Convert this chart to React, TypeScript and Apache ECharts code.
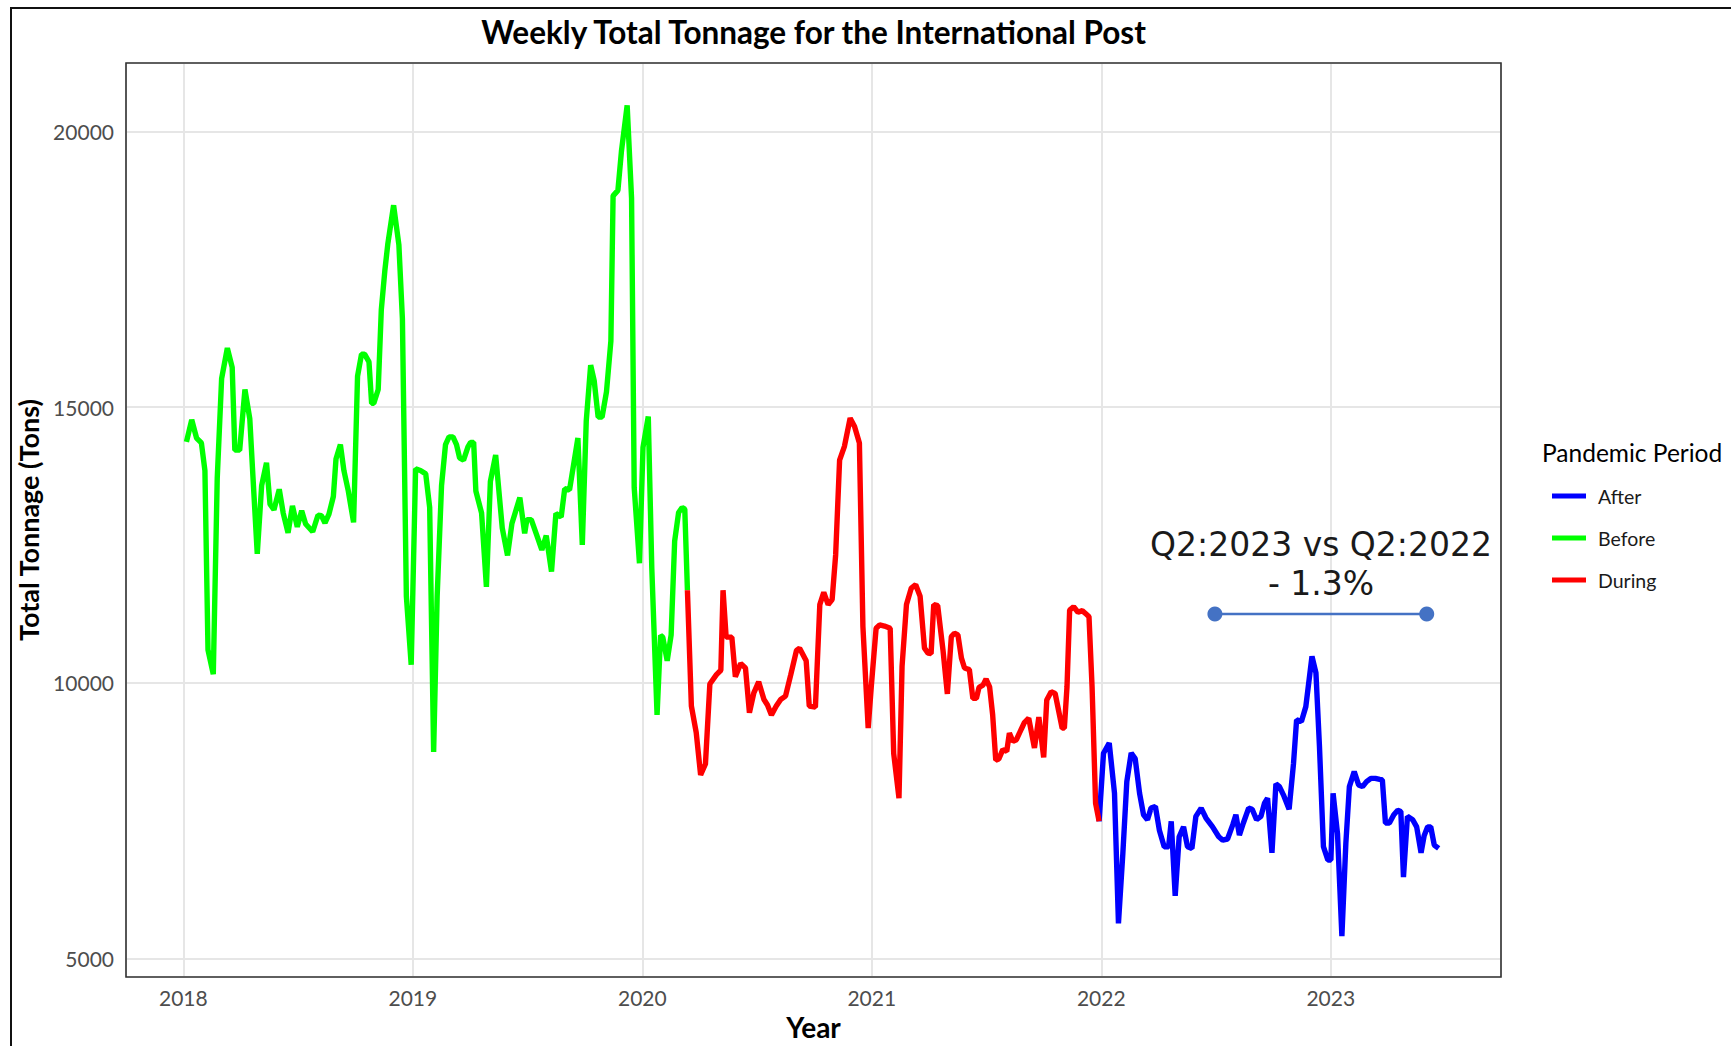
import React, { useEffect, useRef } from "react";
import * as echarts from "echarts";

// Weeks counted from the first observation (Saturday 2018-01-06); values in tons.
const START_YEAR = 2018;
const START_DAY_OF_YEAR = 5;

const beforePeriod: [number, number][] = [
  [0, 14370], [1.2, 14770], [2.3, 14440], [3.4, 14350], [4.2, 13850], [4.9, 10600], [6.1, 10160],
  [7.0, 13710], [8.0, 15520], [9.3, 16070], [10.4, 15720], [11.0, 14220], [12.1, 14220], [13.3, 15320],
  [14.4, 14790], [15.0, 13910], [16.1, 12340], [17.1, 13580], [18.2, 13990], [19.0, 13240], [19.9, 13140],
  [21.1, 13510], [22.0, 13080], [23.1, 12720], [24.1, 13210], [25.2, 12830], [26.2, 13120], [27.1, 12880],
  [28.7, 12740], [29.9, 13040], [30.7, 13030], [31.5, 12900], [32.4, 13060], [33.4, 13380], [34.0, 14060],
  [35.0, 14320], [35.8, 13850], [36.8, 13480], [38.0, 12910], [38.9, 15560], [39.8, 15960], [40.5, 15960],
  [41.5, 15820], [42.1, 15070], [42.6, 15070], [43.6, 15320], [44.3, 16760], [45.1, 17470], [45.8, 17970],
  [47.1, 18660], [48.3, 17940], [49.1, 16600], [50.0, 11570], [51.1, 10330], [52.1, 13880], [53.2, 13850],
  [54.4, 13790], [55.3, 13180], [56.2, 8750], [57.0, 11570], [58.0, 13580], [58.9, 14320], [59.7, 14460],
  [60.6, 14460], [61.4, 14320], [62.1, 14080], [63.0, 14040], [64.0, 14280], [64.6, 14360], [65.3, 14360],
  [65.8, 13480], [67.1, 13080], [68.2, 11740], [69.1, 13650], [70.3, 14130], [71.8, 12810], [73.0, 12310],
  [74.0, 12890], [75.8, 13360], [76.9, 12710], [77.4, 12960], [78.4, 12960], [79.6, 12690], [80.8, 12410],
  [81.8, 12670], [83.0, 12020], [84.0, 13070], [85.2, 13010], [86.0, 13520], [87.1, 13500], [89.0, 14440],
  [90.0, 12500], [90.9, 14750], [91.9, 15760], [92.7, 15480], [93.6, 14820], [94.5, 14820], [95.5, 15280],
  [96.5, 16200], [97.0, 18830], [98.1, 18930], [98.9, 19640], [100.2, 20470], [101.2, 18790], [101.8, 13540],
  [103.0, 12170], [103.8, 14270], [105.0, 14830], [105.8, 12080], [107.0, 9420], [107.8, 10860], [108.3, 10830],
  [109.3, 10400], [110.2, 10870], [111.0, 12570], [111.9, 13090], [112.7, 13180], [113.3, 13150], [113.9, 11680],
];

const duringPeriod: [number, number][] = [
  [113.9, 11680], [114.8, 9580], [115.9, 9100], [116.9, 8330], [118.0, 8530], [119.0, 9980], [120.5, 10150],
  [121.5, 10230], [122.0, 11680], [122.7, 10830], [124.0, 10830], [124.8, 10110], [126.0, 10350], [127.1, 10270],
  [128.0, 9460], [129.0, 9820], [130.1, 10020], [131.3, 9700], [132.1, 9600], [133.0, 9420], [134.1, 9580],
  [135.1, 9700], [136.2, 9760], [137.4, 10150], [138.7, 10590], [139.4, 10630], [140.9, 10400], [141.6, 9580],
  [143.0, 9560], [144.0, 11420], [144.9, 11640], [145.9, 11420], [146.8, 11510], [147.6, 12320], [148.5, 14040],
  [149.6, 14290], [150.9, 14800], [151.9, 14650], [153.0, 14350], [153.8, 11020], [155.0, 9180], [155.7, 9930],
  [156.8, 10990], [157.6, 11050], [158.7, 11030], [160.0, 10990], [160.8, 8720], [162.0, 7910], [162.7, 10300],
  [163.7, 11420], [164.8, 11720], [165.8, 11780], [166.8, 11570], [167.8, 10630], [168.6, 10540], [169.3, 10530],
  [169.9, 11420], [170.8, 11400], [172.0, 10600], [173.0, 9800], [173.9, 10840], [174.6, 10900], [175.4, 10870],
  [176.2, 10450], [176.9, 10270], [178.0, 10240], [178.8, 9720], [179.6, 9720], [180.2, 9920], [181.1, 9960],
  [181.8, 10070], [182.6, 9930], [183.3, 9420], [184.0, 8600], [184.7, 8620], [185.6, 8790], [186.5, 8760],
  [187.1, 9090], [187.9, 8940], [188.7, 8970], [189.8, 9160], [190.5, 9280], [191.5, 9360], [192.8, 8820],
  [193.8, 9380], [194.9, 8650], [195.6, 9690], [196.6, 9840], [197.5, 9810], [199.1, 9180], [199.6, 9180],
  [200.2, 9930], [200.8, 11320], [201.7, 11380], [202.7, 11280], [203.7, 11310], [204.4, 11260], [205.2, 11200],
  [205.9, 9930], [206.7, 7820], [207.5, 7490],
];

const afterPeriod: [number, number][] = [
  [207.5, 7490], [208.5, 8725], [209.8, 8910], [211.0, 8000], [211.9, 5640], [212.9, 6910], [213.8, 8210],
  [214.8, 8730], [215.7, 8630], [216.7, 8000], [217.6, 7610], [218.5, 7520], [219.3, 7730], [220.3, 7760],
  [221.2, 7330], [222.3, 7030], [223.3, 7030], [223.9, 7490], [224.8, 6140], [225.7, 7210], [226.7, 7390],
  [227.6, 7030], [228.6, 7000], [229.5, 7580], [230.7, 7730], [231.8, 7550], [233.3, 7390], [234.7, 7210],
  [235.6, 7150], [236.7, 7170], [237.9, 7430], [238.6, 7610], [239.4, 7240], [240.3, 7460], [241.5, 7730],
  [242.3, 7710], [243.3, 7520], [244.3, 7580], [245.1, 7820], [245.8, 7910], [246.8, 6920], [247.7, 8170],
  [248.5, 8120], [249.4, 7970], [250.7, 7710], [251.7, 8540], [252.4, 9330], [253.5, 9300], [254.5, 9570],
  [255.9, 10480], [256.8, 10180], [257.6, 8850], [258.5, 7030], [259.5, 6790], [260.2, 6790], [260.7, 8000],
  [261.7, 7270], [262.7, 5410], [263.6, 7090], [264.4, 8120], [265.5, 8390], [266.5, 8150], [267.4, 8120],
  [268.3, 8210], [269.3, 8270], [270.3, 8270], [271.3, 8250], [271.9, 8240], [272.6, 7460], [273.5, 7460],
  [274.5, 7610], [275.4, 7690], [276.1, 7670], [276.7, 6480], [277.6, 7580], [278.8, 7520], [279.7, 7390],
  [280.7, 6920], [281.4, 7230], [282.2, 7390], [282.9, 7390], [283.7, 7060], [284.7, 7000],
];

// Q2:2023 vs Q2:2022 comparison bar (decimal year, tons)
const comparisonBar: [number, number][] = [
  [2022.495, 11250],
  [2023.418, 11250],
];

const periodNames = ["After", "Before", "During"];
const periodColors = ["#0000FF", "#00FF00", "#FF0000"];
const yTicks = [5000, 10000, 15000, 20000];
const xTicks = [2018, 2019, 2020, 2021, 2022, 2023];
const annotationText = "Q2:2023 vs Q2:2022\n- 1.3%";

const toYear = (w: number) => START_YEAR + (START_DAY_OF_YEAR + 7 * w) / 365.25;
const toPoints = (arr: [number, number][]) => arr.map(([w, v]) => [toYear(w), v]);

export default function App() {
  const ref = useRef<HTMLDivElement>(null);

  useEffect(() => {
    if (!ref.current) return;
    const chart = echarts.init(ref.current, undefined, { renderer: "svg" });
    const font = "Lato, 'Noto Sans', sans-serif";
    const periodData = [afterPeriod, beforePeriod, duringPeriod];

    const lineSeries = periodNames.map((name, i) => ({
      name,
      type: "line",
      data: toPoints(periodData[i]),
      showSymbol: false,
      symbol: "none",
      itemStyle: { color: periodColors[i] },
      lineStyle: { color: periodColors[i], width: 5.4, join: "bevel", cap: "butt" },
      z: 3,
    }));

    chart.setOption({
      animation: false,
      backgroundColor: "#ffffff",
      title: {
        text: "Weekly Total Tonnage for the International Post",
        left: 813.5,
        top: 16,
        textAlign: "center",
        padding: 0,
        textStyle: { fontFamily: font, fontWeight: "bold", fontSize: 31.5, color: "#000000" },
      },
      grid: {
        left: 126,
        right: 230,
        top: 63,
        bottom: 69,
        show: false,
        containLabel: false,
      },
      legend: {
        data: periodNames,
        orient: "vertical",
        left: 1547,
        top: 480,
        icon: "rect",
        itemWidth: 34,
        itemHeight: 5,
        itemGap: 20,
        textStyle: {
          fontFamily: font,
          fontSize: 19.5,
          color: "#1a1a1a",
          lineHeight: 22,
          padding: [0, 0, 0, 7],
        },
      },
      xAxis: {
        type: "value",
        min: 2017.7503,
        max: 2023.7416,
        minInterval: 1,
        maxInterval: 1,
        name: "Year",
        nameLocation: "middle",
        nameGap: 34,
        nameTextStyle: { fontFamily: font, fontWeight: "bold", fontSize: 28, color: "#000000" },
        axisLine: { show: false },
        axisTick: { show: false },
        axisLabel: {
          show: true,
          margin: 10,
          showMinLabel: false,
          showMaxLabel: false,
          fontFamily: font,
          fontSize: 21,
          color: "#4D4D4D",
          formatter: (v: number) => (xTicks.includes(Math.round(v)) && Math.abs(v - Math.round(v)) < 1e-6 ? String(Math.round(v)) : ""),
        },
        splitLine: { show: true, lineStyle: { color: "#E6E6E6", width: 2 } },
      },
      yAxis: {
        type: "value",
        min: 4668,
        max: 21239,
        minInterval: 5000,
        maxInterval: 5000,
        name: "Total Tonnage (Tons)",
        nameLocation: "middle",
        nameGap: 80,
        nameTextStyle: { fontFamily: font, fontWeight: "bold", fontSize: 27, color: "#000000" },
        axisLine: { show: false },
        axisTick: { show: false },
        axisLabel: {
          show: true,
          margin: 12,
          showMinLabel: false,
          showMaxLabel: false,
          fontFamily: font,
          fontSize: 21,
          color: "#4D4D4D",
          formatter: (v: number) => (yTicks.includes(v) ? String(v) : ""),
        },
        splitLine: { show: true, lineStyle: { color: "#E6E6E6", width: 2 } },
      },
      series: [
        ...lineSeries,
        {
          name: "Comparison",
          type: "line",
          data: comparisonBar,
          symbol: "circle",
          symbolSize: 15,
          showSymbol: true,
          itemStyle: { color: "#4472C4" },
          lineStyle: { color: "#4472C4", width: 2.5 },
          z: 4,
        },
      ],
      graphic: [
        {
          type: "rect",
          shape: { x: 126, y: 63, width: 1375, height: 914 },
          style: { fill: "none", stroke: "#333333", lineWidth: 1.6 },
          silent: true,
          z: 90,
        },
        {
          type: "rect",
          shape: { x: 11, y: 8, width: 1800, height: 1100 },
          style: { fill: "none", stroke: "#111111", lineWidth: 2 },
          silent: true,
          z: 100,
        },
        {
          type: "text",
          x: 1542,
          y: 452,
          style: {
            text: "Pandemic Period",
            fontFamily: font,
            fontSize: 24.5,
            fill: "#000000",
            textAlign: "left",
            textVerticalAlign: "middle",
          },
        },
        {
          type: "text",
          x: 1321,
          y: 564,
          style: {
            text: annotationText,
            fontFamily: "'DejaVu Sans', sans-serif",
            fontSize: 33,
            lineHeight: 39,
            fill: "#1a1a1a",
            textAlign: "center",
            textVerticalAlign: "middle",
          },
          z: 50,
        },
      ],
    });

    return () => chart.dispose();
  }, []);

  return (
    <div
      ref={ref}
      style={{ position: "absolute", left: 0, top: 0, width: 1731, height: 1046, background: "#fff" }}
    />
  );
}
